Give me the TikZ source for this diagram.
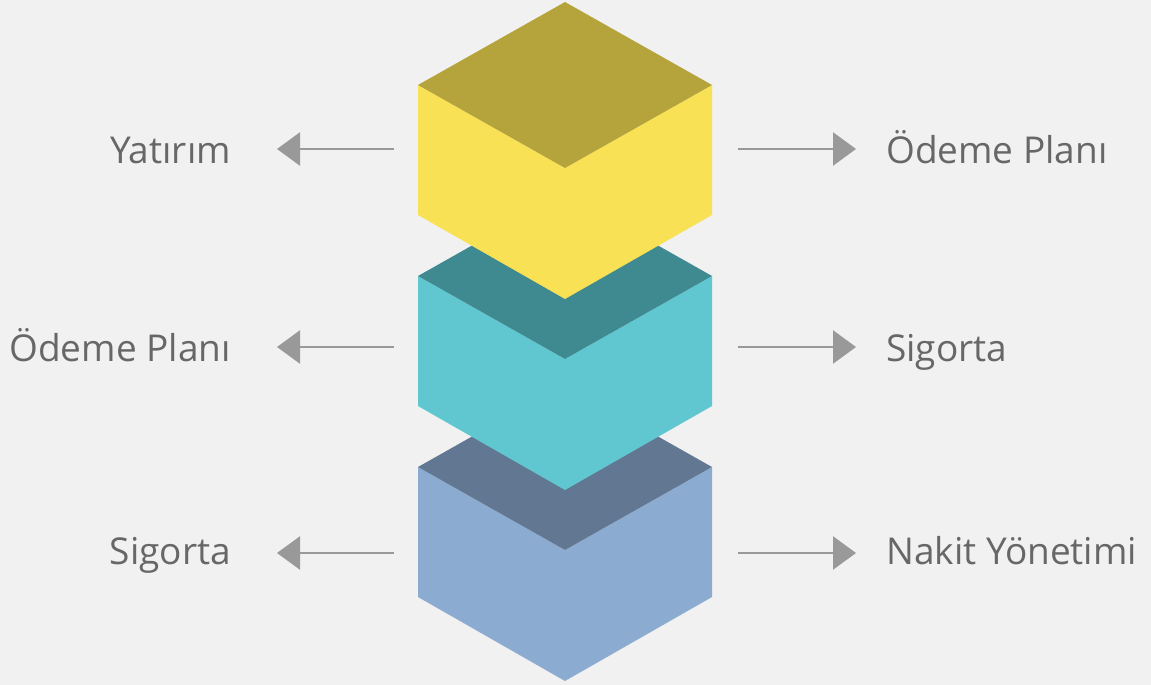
\documentclass[tikz,border=0pt]{standalone}
\usepackage{fontspec}
\setmainfont{Open Sans}
\usetikzlibrary{arrows.meta}
\definecolor{bg}{HTML}{F1F1F1}
\definecolor{ytop}{HTML}{B5A33B}
\definecolor{yfront}{HTML}{F9E155}
\definecolor{ttop}{HTML}{3F8A91}
\definecolor{tfront}{HTML}{60C7D1}
\definecolor{btop}{HTML}{627791}
\definecolor{bfront}{HTML}{8BABD1}
\definecolor{txt}{HTML}{676767}
\definecolor{arr}{HTML}{999999}
\tikzset{
  lbl/.style={font=\fontsize{37}{44}\selectfont, text=txt, inner sep=0pt},
  conn/.style={draw=arr, line width=2.5pt, -{Triangle[length=23pt,width=33pt]}},
}
\begin{document}
\begin{tikzpicture}[x=1pt,y=-1pt]
\useasboundingbox[fill=bg] (0,0) rectangle (1151,685);
% cubes: bottom first
\foreach \c/\top/\front/\dy in {3/btop/bfront/382, 2/ttop/tfront/191, 1/ytop/yfront/0}{
  \fill[\front] (418,85+\dy) -- (565,168+\dy) -- (712,85+\dy) -- (712,215+\dy) -- (565,299+\dy) -- (418,215+\dy) -- cycle;
  \fill[\top] (565,2+\dy) -- (712,85+\dy) -- (565,168+\dy) -- (418,85+\dy) -- cycle;
  \coordinate (cube\c) at (565,150+\dy);
}
% arrow coordinates
\coordinate (l1a) at (394,149);
\coordinate (l1b) at (277,149);
\coordinate (r1a) at (738,149);
\coordinate (r1b) at (856,149);
\coordinate (l2a) at (394,347);
\coordinate (l2b) at (277,347);
\coordinate (r2a) at (738,347);
\coordinate (r2b) at (856,347);
\coordinate (l3a) at (394,553);
\coordinate (l3b) at (277,553);
\coordinate (r3a) at (738,553);
\coordinate (r3b) at (856,553);
\foreach \i in {1,2,3}{
  \draw[conn] (l\i a) -- (l\i b);
  \draw[conn] (r\i a) -- (r\i b);
}
% labels
\node[lbl, anchor=base east] (tl1) at (231,163) {Yatırım};
\node[lbl, anchor=base west] (tr1) at (886,163) {Ödeme Planı};
\node[lbl, anchor=base east] (tl2) at (231,361) {Ödeme Planı};
\node[lbl, anchor=base west] (tr2) at (886,361) {Sigorta};
\node[lbl, anchor=base east] (tl3) at (231,564) {Sigorta};
\node[lbl, anchor=base west] (tr3) at (886,564) {Nakit Yönetimi};
\end{tikzpicture}
\end{document}
